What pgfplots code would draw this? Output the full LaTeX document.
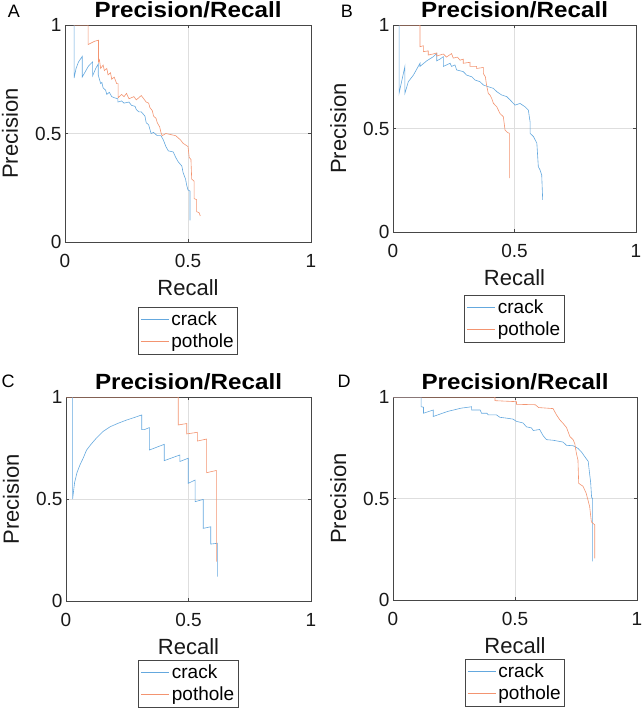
\documentclass[border=0pt]{standalone}
\usepackage{fontspec}
\setmainfont{Liberation Sans}
\usepackage{pgfplots}
\pgfplotsset{compat=1.18}
\definecolor{crackc}{RGB}{100,168,222}
\definecolor{potc}{RGB}{243,148,112}
\definecolor{framec}{RGB}{70,70,70}
\pgfplotsset{
  prstyle/.style={
    scale only axis, xmin=0, xmax=1, ymin=0, ymax=1,
    xtick={0,0.5,1}, ytick={0,0.5,1},
    xticklabels={0,0.5,1}, yticklabels={0,0.5,1},
    grid=major, major grid style={draw=black!13, line width=0.6pt},
    axis line style={draw=framec, line width=0.9pt},
    tick style={draw=framec, line width=0.6pt}, major tick length=3pt, tick align=inside,
    tick label style={font=\fontsize{19}{19}\selectfont, text=black!90},
    xticklabel style={yshift=-9pt},
    title={\scalebox{1.1}[1]{Precision/Recall}},
    xlabel={Recall}, ylabel={Precision},
    every axis title/.style={at={(axis description cs:0.5,1)}, yshift=8pt, anchor=base, font=\fontsize{22}{22}\selectfont\bfseries},
    every axis x label/.style={at={(axis description cs:0.5,0)}, yshift=-53pt, anchor=base, font=\fontsize{22}{22}\selectfont, text=black!90},
    every axis y label/.style={at={(axis description cs:0,0.5)}, xshift=-47pt, rotate=90, anchor=base, font=\fontsize{22}{22}\selectfont, text=black!90},
    legend cell align=left,
    legend image code/.code={\draw[#1, line width=1.1pt] (0pt,0pt) -- (28pt,0pt);},
    legend style={draw=framec, line width=0.7pt, font=\fontsize{19}{19}\selectfont, inner xsep=2pt, inner ysep=2.5pt, row sep=3pt, anchor=north},
    every axis plot/.append style={line width=0.6pt},
  }
}
\begin{document}
\begin{tikzpicture}
\useasboundingbox (0pt,0pt) rectangle (642pt,-710pt);
% ---------- A ----------
\begin{axis}[prstyle, at={(65pt,-25pt)}, anchor=north west, width=246pt, height=217pt,
  legend style={at={(axis description cs:0.5,0)}, yshift=-65pt}]
\addplot[draw=crackc] coordinates {(0.037,1) (0.037,0.755) (0.045,0.80) (0.055,0.83) (0.07,0.855) (0.07,0.76) (0.08,0.78) (0.095,0.81) (0.112,0.83) (0.112,0.765) (0.125,0.80) (0.135,0.82) (0.135,0.77) (0.14,0.75) (0.145,0.73) (0.15,0.735) (0.155,0.71) (0.165,0.70) (0.17,0.68) (0.18,0.69) (0.19,0.67) (0.20,0.665) (0.215,0.66) (0.215,0.645) (0.23,0.65) (0.24,0.64) (0.26,0.645) (0.27,0.63) (0.285,0.625) (0.29,0.61) (0.30,0.60) (0.31,0.60) (0.325,0.58) (0.33,0.55) (0.34,0.54) (0.35,0.50) (0.36,0.505) (0.375,0.49) (0.39,0.49) (0.40,0.47) (0.41,0.44) (0.42,0.42) (0.44,0.415) (0.45,0.39) (0.46,0.37) (0.475,0.35) (0.48,0.32) (0.49,0.29) (0.495,0.26) (0.50,0.24) (0.508,0.235) (0.508,0.10)};
\addlegendentry{crack}
\addplot[draw=potc] coordinates {(0.035,1) (0.094,1) (0.094,0.91) (0.12,0.925) (0.136,0.93) (0.136,0.83) (0.14,0.84) (0.145,0.80) (0.155,0.815) (0.16,0.79) (0.17,0.80) (0.175,0.77) (0.185,0.78) (0.19,0.75) (0.20,0.76) (0.21,0.73) (0.216,0.73) (0.216,0.665) (0.23,0.68) (0.24,0.67) (0.25,0.685) (0.26,0.66) (0.28,0.67) (0.29,0.655) (0.31,0.675) (0.32,0.66) (0.33,0.645) (0.34,0.64) (0.345,0.62) (0.355,0.605) (0.36,0.58) (0.37,0.57) (0.375,0.55) (0.385,0.53) (0.39,0.505) (0.395,0.49) (0.41,0.50) (0.43,0.495) (0.45,0.49) (0.46,0.48) (0.47,0.47) (0.48,0.455) (0.50,0.44) (0.505,0.39) (0.512,0.38) (0.515,0.29) (0.525,0.28) (0.525,0.20) (0.535,0.195) (0.535,0.14) (0.545,0.135) (0.55,0.12)};
\addlegendentry{pothole}
\end{axis}
% ---------- B ----------
\begin{axis}[prstyle, at={(393pt,-25pt)}, anchor=north west, width=243pt, height=207pt,
  legend style={at={(axis description cs:0.5,0)}, yshift=-63pt}]
\addplot[draw=crackc] coordinates {(0.025,1) (0.025,0.67) (0.049,0.80) (0.049,0.67) (0.063,0.726) (0.084,0.758) (0.111,0.815) (0.111,0.80) (0.139,0.827) (0.166,0.847) (0.18,0.863) (0.18,0.827) (0.193,0.835) (0.207,0.847) (0.207,0.80) (0.235,0.815) (0.241,0.80) (0.255,0.807) (0.262,0.783) (0.289,0.775) (0.303,0.758) (0.324,0.75) (0.338,0.734) (0.358,0.726) (0.372,0.71) (0.392,0.702) (0.413,0.694) (0.427,0.678) (0.447,0.662) (0.468,0.654) (0.482,0.638) (0.502,0.613) (0.523,0.621) (0.543,0.605) (0.557,0.589) (0.564,0.533) (0.564,0.477) (0.578,0.461) (0.592,0.429) (0.598,0.316) (0.605,0.30) (0.612,0.275) (0.616,0.155)};
\addlegendentry{crack}
\addplot[draw=potc] coordinates {(0.025,1) (0.111,1) (0.111,0.895) (0.125,0.90) (0.125,0.871) (0.145,0.875) (0.145,0.855) (0.165,0.86) (0.18,0.865) (0.18,0.85) (0.207,0.86) (0.22,0.845) (0.241,0.862) (0.248,0.84) (0.265,0.845) (0.276,0.83) (0.289,0.835) (0.289,0.815) (0.317,0.82) (0.317,0.80) (0.344,0.80) (0.344,0.79) (0.372,0.795) (0.372,0.765) (0.38,0.75) (0.385,0.71) (0.392,0.67) (0.40,0.66) (0.406,0.646) (0.413,0.622) (0.427,0.605) (0.44,0.573) (0.454,0.557) (0.461,0.493) (0.472,0.48) (0.479,0.477) (0.479,0.26)};
\addlegendentry{pothole}
\end{axis}
% ---------- C ----------
\begin{axis}[prstyle, at={(66pt,-397pt)}, anchor=north west, width=245pt, height=204pt,
  legend style={at={(axis description cs:0.5,0)}, yshift=-59pt}]
\addplot[draw=crackc] coordinates {(0.027,1) (0.027,0.5) (0.035,0.58) (0.045,0.63) (0.057,0.667) (0.07,0.70) (0.084,0.74) (0.10,0.765) (0.125,0.80) (0.15,0.83) (0.18,0.854) (0.21,0.87) (0.247,0.887) (0.28,0.90) (0.309,0.912) (0.309,0.84) (0.32,0.84) (0.34,0.85) (0.34,0.74) (0.401,0.768) (0.401,0.688) (0.465,0.716) (0.465,0.684) (0.499,0.70) (0.499,0.577) (0.527,0.593) (0.527,0.487) (0.560,0.498) (0.560,0.356) (0.591,0.364) (0.591,0.279) (0.618,0.283) (0.618,0.119)};
\addlegendentry{crack}
\addplot[draw=potc] coordinates {(0,1) (0.458,1) (0.458,0.863) (0.493,0.87) (0.493,0.819) (0.536,0.827) (0.536,0.784) (0.574,0.794) (0.574,0.629) (0.614,0.64) (0.614,0.193)};
\addlegendentry{pothole}
\end{axis}
% ---------- D ----------
\begin{axis}[prstyle, at={(393pt,-397pt)}, anchor=north west, width=244pt, height=203pt,
  legend style={at={(axis description cs:0.5,0)}, yshift=-59pt}]
\addplot[draw=crackc] coordinates {(0,1) (0.115,1) (0.115,0.952) (0.125,0.95) (0.125,0.92) (0.165,0.936) (0.165,0.904) (0.224,0.929) (0.279,0.945) (0.322,0.952) (0.322,0.936) (0.357,0.936) (0.363,0.92) (0.385,0.92) (0.39,0.912) (0.424,0.912) (0.438,0.90) (0.465,0.896) (0.492,0.891) (0.506,0.88) (0.533,0.872) (0.547,0.853) (0.567,0.848) (0.575,0.835) (0.601,0.84) (0.615,0.81) (0.629,0.79) (0.656,0.787) (0.697,0.778) (0.711,0.762) (0.738,0.76) (0.758,0.747) (0.772,0.73) (0.786,0.706) (0.80,0.683) (0.804,0.64) (0.81,0.58) (0.814,0.505) (0.818,0.50) (0.818,0.19)};
\addlegendentry{crack}
\addplot[draw=potc] coordinates {(0,1) (0.418,1) (0.418,0.982) (0.506,0.977) (0.506,0.964) (0.583,0.962) (0.597,0.948) (0.656,0.943) (0.67,0.912) (0.684,0.887) (0.697,0.87) (0.711,0.85) (0.725,0.805) (0.738,0.79) (0.745,0.77) (0.752,0.72) (0.758,0.69) (0.761,0.575) (0.779,0.56) (0.792,0.525) (0.806,0.46) (0.813,0.385) (0.827,0.37) (0.827,0.205)};
\addlegendentry{pothole}
\end{axis}
% panel letters
\node[anchor=base, font=\fontsize{18}{18}\selectfont] at (14pt,-17pt) {A};
\node[anchor=base, font=\fontsize{18}{18}\selectfont] at (347pt,-17pt) {B};
\node[anchor=base, font=\fontsize{18}{18}\selectfont] at (8pt,-387pt) {C};
\node[anchor=base, font=\fontsize{18}{18}\selectfont] at (344pt,-387pt) {D};
\end{tikzpicture}
\end{document}
